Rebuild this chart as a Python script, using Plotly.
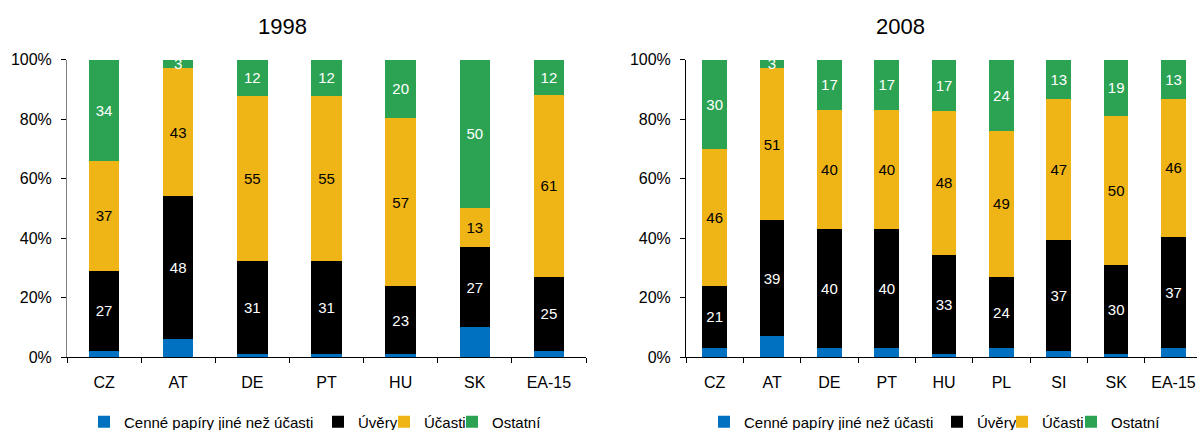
import plotly.graph_objects as go

# ---- data ----
cats_1998 = ["CZ", "AT", "DE", "PT", "HU", "SK", "EA-15"]
sec_1998 = [2, 6, 1, 1, 1, 10, 2]
loans_1998 = [27, 48, 31, 31, 23, 27, 25]
eq_1998 = [37, 43, 55, 55, 57, 13, 61]
oth_1998 = [34, 3, 12, 12, 20, 50, 12]

cats_2008 = ["CZ", "AT", "DE", "PT", "HU", "PL", "SI", "SK", "EA-15"]
sec_2008 = [3, 7, 3, 3, 1, 3, 2, 1, 3]
loans_2008 = [21, 39, 40, 40, 33, 24, 37, 30, 37]
eq_2008 = [46, 51, 40, 40, 48, 49, 47, 50, 46]
oth_2008 = [30, 3, 17, 17, 17, 24, 13, 19, 13]

series_names = ["Cenné papíry jiné než účasti", "Úvěry", "Účasti", "Ostatní"]
colors = ["#0070C0", "#000000", "#EFB416", "#2CA352"]
label_colors = [None, "#FFFFFF", "#000000", "#FFFFFF"]
y_ticks = [0, 20, 40, 60, 80, 100]
y_ticktext = ["0%", "20%", "40%", "60%", "80%", "100%"]

FONT = "Liberation Sans, Arial, sans-serif"
W, H = 1197, 430

# legend entry text start positions (px) for each panel
legend_text_x = {
    0: [124, 358, 424, 492],
    1: [744, 977, 1042, 1111],
}

fig = go.Figure()


def add_panel(panel, cats, series, xa, ya, width):
    for i, (name, vals) in enumerate(zip(series_names, series)):
        if label_colors[i] is not None:
            kw = dict(text=[str(v) for v in vals], textposition="inside",
                      insidetextanchor="middle", textangle=0,
                      constraintext="none",
                      textfont=dict(color=label_colors[i], size=15, family=FONT))
        else:
            kw = dict(textposition="none")
        leg_id = "legend" if (panel == 0 and i == 0) else f"legend{panel * 4 + i + 1}"
        fig.add_trace(go.Bar(
            x=cats, y=vals, name=name, marker=dict(color=colors[i], line=dict(width=0)),
            width=width, xaxis=xa, yaxis=ya, legend=leg_id, hoverinfo="x+y+name", **kw))


add_panel(0, cats_1998, [sec_1998, loans_1998, eq_1998, oth_1998], "x", "y", 0.41)
add_panel(1, cats_2008, [sec_2008, loans_2008, eq_2008, oth_2008], "x2", "y2", 0.43)

y_bottom = (H - 357) / H
y_top = (H - 59.5) / H

axis_common = dict(showgrid=False, zeroline=False, showline=True, linewidth=1,
                   ticks="outside", ticklen=5, tickwidth=1,
                   tickfont=dict(size=16, family=FONT, color="#000"))

legends = {}
for panel in (0, 1):
    for i in range(4):
        key = "legend" if (panel == 0 and i == 0) else f"legend{panel * 4 + i + 1}"
        legends[key] = dict(orientation="h", x=(legend_text_x[panel][i] - 40) / W,
                            xanchor="left", y=(H - 422) / H, yanchor="middle",
                            font=dict(size=15, family=FONT, color="#000"),
                            bgcolor="rgba(0,0,0,0)", borderwidth=0)

fig.update_layout(
    width=W, height=H,
    margin=dict(l=0, r=0, t=0, b=0, pad=0, autoexpand=False),
    paper_bgcolor="white", plot_bgcolor="white",
    barmode="stack", barnorm="percent",
    uniformtext=dict(minsize=15, mode="show"),
    font=dict(family=FONT, size=15, color="#000"),
    showlegend=True,
    xaxis=dict(domain=[67 / W, 586 / W], type="category", tickson="boundaries",
               linecolor="#000", tickcolor="#000", ticklabelstandoff=11,
               anchor="y", automargin=False, **axis_common),
    yaxis=dict(domain=[y_bottom, y_top], range=[0, 100], tickvals=y_ticks,
               ticktext=y_ticktext, linecolor="#808080", tickcolor="#000",
               ticklabelstandoff=6, anchor="x", automargin=False, **axis_common),
    xaxis2=dict(domain=[686 / W, 1.0], type="category", tickson="boundaries",
                range=[-0.5, 8.41], linecolor="#000", tickcolor="#000",
                ticklabelstandoff=11, anchor="y2", automargin=False, **axis_common),
    yaxis2=dict(domain=[y_bottom, y_top], range=[0, 100], tickvals=y_ticks,
                ticktext=y_ticktext, linecolor="#000", tickcolor="#000",
                ticklabelstandoff=6, anchor="x2", automargin=False, **axis_common),
    annotations=[
        dict(text="1998", x=282 / W, y=(H - 27) / H, xref="paper", yref="paper",
             xanchor="center", yanchor="middle", showarrow=False,
             font=dict(size=22, family=FONT, color="#000")),
        dict(text="2008", x=900 / W, y=(H - 27) / H, xref="paper", yref="paper",
             xanchor="center", yanchor="middle", showarrow=False,
             font=dict(size=22, family=FONT, color="#000")),
    ],
    **legends,
)

fig.write_html("out.html", config={"displayModeBar": False},
               post_script="document.body.style.margin='0';document.body.style.overflow='hidden';")
